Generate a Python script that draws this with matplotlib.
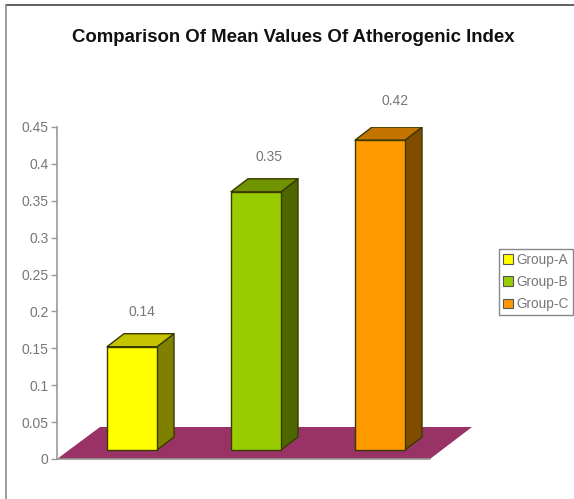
import matplotlib
matplotlib.use("Agg")
import matplotlib.pyplot as plt
from matplotlib.lines import Line2D
from matplotlib.patches import Patch, Polygon

plt.rcParams['font.family'] = ['Liberation Sans', 'DejaVu Sans']

groups = ["Group-A", "Group-B", "Group-C"]
means = [0.14, 0.35, 0.42]
front_colors = ["#ffff00", "#99cc00", "#ff9900"]
top_colors = ["#c4c400", "#6f9400", "#c47500"]
side_colors = ["#808000", "#4d6600", "#804d00"]
yticks = [0, 0.05, 0.1, 0.15, 0.2, 0.25, 0.3, 0.35, 0.4, 0.45]
yticklabels = ["0", "0.05", "0.1", "0.15", "0.2", "0.25", "0.3", "0.35", "0.4", "0.45"]
title = "Comparison Of Mean Values Of Atherogenic Index"

W, H = 574, 499
X_LEFT, X_RIGHT = 57, 475
Y_ZERO, Y_TOP = 459, 127
PX_X = 124.0
PX_Y = (Y_ZERO - Y_TOP) / 0.45
# the labels are not placed evenly in the original (pixels right of bar centre, above bar back)
label_nudge = [(10, 22), (13, 22), (15, 26)]


def draw_bar(ax, pos, value, front, top, side, nudge):
    w = 50 / PX_X / 2
    dx = 17 / PX_X
    dy = 13 / PX_Y
    base = 9 / PX_Y
    edge = dict(edgecolor="#3a3a00", linewidth=1.0, joinstyle="round", zorder=3)
    l, r = pos - w, pos + w
    b, t = base, base + value
    ax.add_patch(Polygon([(r, b), (r + dx, b + dy), (r + dx, t + dy), (r, t)], facecolor=side, **edge))
    ax.add_patch(Polygon([(l, t), (r, t), (r + dx, t + dy), (l + dx, t + dy)], facecolor=top, **edge))
    ax.add_patch(Polygon([(l, b), (r, b), (r, t), (l, t)], facecolor=front, **edge))
    ax.text(pos + nudge[0] / PX_X, t + dy + nudge[1] / PX_Y, f"{value:.2f}", ha="center", va="center",
            fontsize=10, color="#777777", zorder=4)


def main():
    fig = plt.figure(figsize=(W / 100, H / 100), dpi=100)

    # frame of the original picture, open on the right and at the bottom
    fig.add_artist(Line2D([6 / W, 1], [1 - 5 / H, 1 - 5 / H], color="#444444", linewidth=1.2))
    fig.add_artist(Line2D([6 / W, 6 / W], [0, 1 - 5 / H], color="#8a8a8a", linewidth=1.2))

    ax = fig.add_axes([X_LEFT / W, 1 - Y_ZERO / H, (X_RIGHT - X_LEFT) / W, (Y_ZERO - Y_TOP) / H])
    ax.set_xlim(-(132 - X_LEFT) / PX_X, (X_RIGHT - 132) / PX_X)
    ax.set_ylim(0, 0.45)
    ax.patch.set_visible(False)

    x0 = ax.get_xlim()[0]
    floor_depth = 32 / PX_Y
    floor = [(x0, 0), ((430 - 132) / PX_X, 0), ((472 - 132) / PX_X, floor_depth), ((100 - 132) / PX_X, floor_depth)]
    ax.add_patch(Polygon(floor, facecolor="#993366", edgecolor="none", zorder=1))
    ax.plot([x0, (430 - 132) / PX_X], [0, 0], color="#999999", linewidth=1.2, zorder=2, clip_on=False)

    for i, value in enumerate(means):
        draw_bar(ax, i, value, front_colors[i], top_colors[i], side_colors[i], label_nudge[i])

    for name in ["top", "right", "bottom"]:
        ax.spines[name].set_visible(False)
    ax.spines["left"].set_color("#999999")
    ax.spines["left"].set_linewidth(1.2)
    ax.set_xticks([])
    ax.set_yticks(yticks)
    ax.set_yticklabels(yticklabels)
    ax.tick_params(axis="y", length=4, width=1, color="#999999", labelcolor="#777777", labelsize=10, pad=2)

    fig.text(293.5 / W, 1 - 37 / H, title, ha="center", va="center", fontsize=13.4, fontweight="bold", color="#111111")

    handles = [Patch(facecolor=c, edgecolor="#555555", linewidth=0.8) for c in front_colors]
    fig.legend(handles, groups, loc="center", bbox_to_anchor=(536 / W, 1 - 282 / H), fontsize=9.8,
               labelcolor="#777777", fancybox=False, framealpha=1, edgecolor="#888888", borderpad=0.3,
               labelspacing=0.6, handlelength=0.73, handleheight=0.7, handletextpad=0.22, borderaxespad=0)

    fig.savefig("out.png", dpi=100, facecolor="white")


if __name__ == "__main__":
    main()
